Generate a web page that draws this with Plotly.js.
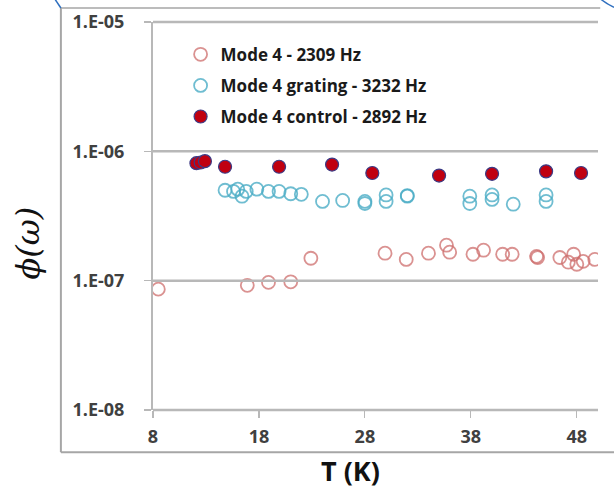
<!DOCTYPE html>
<html>
<head>
<meta charset="utf-8">
<script src="https://cdn.plot.ly/plotly-3.0.1.min.js"></script>
<style>
  html, body { margin: 0; padding: 0; background: #fff; }
  #chart { width: 614px; height: 494px; }
</style>
</head>
<body>
<div id="chart"></div>
<script>
// Temperature (K) and phi(omega) for each measured series
const tMode4 = [8.5, 16.9, 18.9, 21.0, 22.9, 29.9, 31.9, 34.0, 35.7, 36.0, 38.2, 39.2, 41.0, 41.9, 44.2, 44.3, 46.4, 47.2, 47.7, 48.0, 48.6, 49.7];
const phiMode4 = [8.6e-8, 9.2e-8, 9.7e-8, 9.8e-8, 1.49e-7, 1.63e-7, 1.46e-7, 1.63e-7, 1.88e-7, 1.66e-7, 1.60e-7, 1.72e-7, 1.60e-7, 1.60e-7, 1.54e-7, 1.51e-7, 1.51e-7, 1.39e-7, 1.60e-7, 1.34e-7, 1.41e-7, 1.46e-7];

const tGrating = [14.8, 15.6, 16.0, 16.4, 16.8, 17.8, 18.9, 19.9, 21.0, 22.0, 24.0, 25.9, 28.0, 28.0, 30.0, 30.0, 32.0, 32.0, 37.9, 37.9, 40.0, 40.0, 42.0, 45.1, 45.1];
const phiGrating = [5.0e-7, 4.9e-7, 5.1e-7, 4.5e-7, 4.9e-7, 5.1e-7, 4.9e-7, 4.9e-7, 4.7e-7, 4.65e-7, 4.1e-7, 4.17e-7, 4.1e-7, 3.95e-7, 4.6e-7, 4.1e-7, 4.55e-7, 4.5e-7, 4.5e-7, 3.95e-7, 4.6e-7, 4.25e-7, 3.9e-7, 4.6e-7, 4.1e-7];

const tControl = [12.1, 12.5, 12.9, 14.8, 19.9, 24.9, 28.7, 35.0, 40.0, 45.1, 48.4];
const phiControl = [8.1e-7, 8.2e-7, 8.4e-7, 7.6e-7, 7.6e-7, 7.9e-7, 6.8e-7, 6.5e-7, 6.7e-7, 7.0e-7, 6.8e-7];

const seriesNames = ['Mode 4 - 2309 Hz', 'Mode 4 grating - 3232 Hz', 'Mode 4 control - 2892 Hz'];

const xTicks = [8, 18, 28, 38, 48];
const yTickVals = [1e-8, 1e-7, 1e-6, 1e-5];
const yTickText = ['1.E-08', '1.E-07', '1.E-06', '1.E-05'];

const FONT = 'Open Sans, Liberation Sans, sans-serif';
const GRID = '#b8b8b8';
const Y_RANGE = [-8, -5];

const traces = [
  {
    x: tMode4, y: phiMode4, name: seriesNames[0], legendgroup: 'a',
    type: 'scatter', mode: 'markers',
    marker: { symbol: 'circle-open', size: 13, color: 'rgba(205,110,108,0.75)', line: { width: 1.8 } }
  },
  {
    x: tGrating, y: phiGrating, name: seriesNames[1], legendgroup: 'b',
    type: 'scatter', mode: 'markers',
    marker: { symbol: 'circle-open', size: 13, color: 'rgba(75,172,198,0.8)', line: { width: 1.8 } }
  },
  {
    x: tControl, y: phiControl, name: seriesNames[2], legendgroup: 'c',
    type: 'scatter', mode: 'markers',
    marker: { symbol: 'circle', size: 13, color: '#c00010', line: { width: 1.2, color: '#3b3b86' } }
  }
];

// horizontal gridlines at each decade, placed by the y axis range
const gridShapes = yTickVals.map(v => {
  const f = (Math.log10(v) - Y_RANGE[0]) / (Y_RANGE[1] - Y_RANGE[0]);
  return {
    type: 'line', xref: 'paper', yref: 'paper', layer: 'above',
    x0: 0, x1: 1, y0: f, y1: f,
    line: { color: GRID, width: 2.5 }
  };
});

const layout = {
  width: 614, height: 494,
  margin: { l: 153, r: 16, t: 22, b: 84 },
  paper_bgcolor: '#ffffff',
  plot_bgcolor: '#ffffff',
  font: { family: FONT, color: '#404040' },
  showlegend: true,
  legend: {
    x: 0.062, y: 0.962, xanchor: 'left', yanchor: 'top',
    bgcolor: 'rgba(0,0,0,0)',
    font: { family: FONT, size: 17, color: '#1a1a1a', weight: 'bold' },
    tracegroupgap: 6,
    itemwidth: 30
  },
  xaxis: {
    type: 'linear', range: [8, 50],
    tickvals: xTicks, ticktext: xTicks.map(String),
    showgrid: false, zeroline: false,
    showline: false,
    ticks: 'outside', ticklen: 7, tickcolor: GRID, tickwidth: 1.2,
    ticklabelstandoff: 3,
    tickfont: { family: FONT, size: 18, color: '#404040', weight: 'bold' }
  },
  yaxis: {
    type: 'log', range: Y_RANGE,
    tickvals: yTickVals, ticktext: yTickText,
    showgrid: true, gridcolor: GRID, gridwidth: 2,
    zeroline: false,
    showline: true, linecolor: GRID, linewidth: 2,
    ticks: 'outside', ticklen: 7, tickcolor: GRID, tickwidth: 1.2,
    ticklabelstandoff: 16,
    tickfont: { family: FONT, size: 18, color: '#404040', weight: 'bold' }
  },
  annotations: [
    {
      text: 'T (K)', xref: 'paper', yref: 'paper', x: 0.443, y: -0.155,
      xanchor: 'center', yanchor: 'middle', showarrow: false,
      font: { family: FONT, size: 27, color: '#111', weight: 'bold' }
    },
    {
      text: 'ϕ(ω)', xref: 'paper', yref: 'paper', x: -0.28, y: 0.43,
      xanchor: 'center', yanchor: 'middle', showarrow: false, textangle: -90,
      font: { family: 'DejaVu Serif, serif', size: 32, color: '#111', style: 'italic' }
    }
  ],
  shapes: gridShapes.concat([
    // outer frame around the figure
    { type: 'line', xref: 'paper', yref: 'paper', x0: -0.207, x1: -0.207, y0: 1.036, y1: -0.109, line: { color: '#a6a6a6', width: 2 } },
    { type: 'line', xref: 'paper', yref: 'paper', x0: -0.207, x1: 1.005, y0: 1.036, y1: 1.036, line: { color: '#a6a6a6', width: 1.5 } },
    { type: 'line', xref: 'paper', yref: 'paper', x0: -0.207, x1: 1.04, y0: -0.109, y1: -0.109, line: { color: '#a6a6a6', width: 2 } },
    // blue corner strokes
    { type: 'path', xref: 'paper', yref: 'paper', path: 'M -0.221 1.06 Q -0.214 1.048 -0.207 1.036', line: { color: '#2e6fbf', width: 1.5 } },
    { type: 'path', xref: 'paper', yref: 'paper', path: 'M 1.005 1.06 Q 1.02 1.046 1.036 1.038', line: { color: '#2e6fbf', width: 1.5 } }
  ])
};

Plotly.newPlot('chart', traces, layout, { displayModeBar: false, staticPlot: true });
</script>
</body>
</html>
